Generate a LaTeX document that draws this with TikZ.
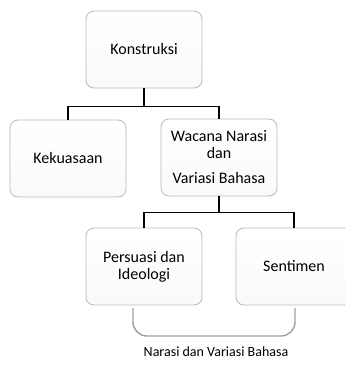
\documentclass[tikz,border=0pt]{standalone}
\usepackage{fontspec}
\setmainfont{Carlito}
\usetikzlibrary{positioning}

\begin{document}
\begin{tikzpicture}[x=1pt, y=-1pt,
        box/.style={draw=gray!55, line width=0.8pt, rounded corners=8pt,
            top color=white, bottom color=gray!4, minimum width=116pt,
            minimum height=77pt, align=center, inner sep=2pt,
            font=\fontsize{16}{17}\selectfont},
        link/.style={line width=1.8pt},
        brace/.style={draw=gray!75, line width=1.4pt, rounded corners=14pt}]
        \useasboundingbox (0,0) rectangle (345,369);
        \clip (0,0) rectangle (345,369);

        % Nodes
        \node (konstruksi) [box] at (144,49.5) {Konstruksi};
        \node (kekuasaan) [box] at (68,158.5) {Kekuasaan};
        \node (wacana) [box] at (219,157.5) {Wacana Narasi\\dan\\[8pt]Variasi Bahasa};
        \node (persuasi) [box] at (144,266.5) {Persuasi dan\\Ideologi};
        \node (sentimen) [box] at (294,266.5) {Sentimen};
        \node (label) [font=\fontsize{14}{16}\selectfont] at (216,352) {Narasi dan Variasi Bahasa};

        % Tree links
        \draw[link] (konstruksi.south) -- ++(0,18) -| (kekuasaan.north);
        \draw[link] (konstruksi.south) -- ++(0,18) -| (wacana.north);
        \draw[link] (wacana.south) -- ++(0,16) -| (persuasi.north);
        \draw[link] (wacana.south) -- ++(0,16) -| (sentimen.north);

        % Bracket under the lower boxes
        \coordinate (brace_l) at (133,308);
        \coordinate (brace_m) at (214,336);
        \coordinate (brace_r) at (295,308);
        \draw[brace] (brace_l) |- (brace_m) -| (brace_r);
    \end{tikzpicture}
\end{document}
